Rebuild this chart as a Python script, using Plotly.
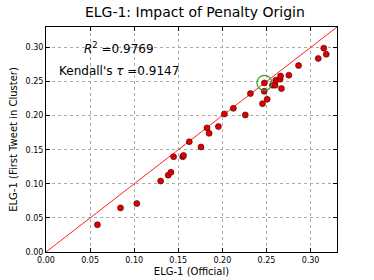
import plotly.graph_objects as go

official = [0.0583, 0.0845, 0.103, 0.130, 0.1386, 0.1417, 0.1447, 0.155, 0.156, 0.1625,
            0.1758, 0.185, 0.1826, 0.1955, 0.2023, 0.2125, 0.226, 0.2318, 0.2455, 0.2508,
            0.2477, 0.2474, 0.2568, 0.2598, 0.2606, 0.2655, 0.266, 0.267, 0.2754, 0.2864,
            0.3087, 0.315, 0.3178]
first_tweet = [0.040, 0.0647, 0.071, 0.104, 0.1127, 0.117, 0.1397, 0.1397, 0.1416, 0.1617,
               0.154, 0.174, 0.182, 0.184, 0.2024, 0.2107, 0.201, 0.2323, 0.2176, 0.224,
               0.248, 0.2357, 0.2446, 0.2446, 0.252, 0.2534, 0.258, 0.2397, 0.2593, 0.2735,
               0.2838, 0.299, 0.290]
highlight_x = [0.2477]
highlight_y = [0.248]
diag = [0.0, 0.33]
tick_vals = [0.00, 0.05, 0.10, 0.15, 0.20, 0.25, 0.30]
tick_text = ["0.00", "0.05", "0.10", "0.15", "0.20", "0.25", "0.30"]
r2_text = "<i>R</i><sup>2</sup> =0.9769"
tau_text = "Kendall's <i>τ</i> =0.9147"

fig = go.Figure()
fig.add_trace(go.Scatter(x=diag, y=diag, mode="lines",
                         line=dict(color="#ff2020", width=1), showlegend=False))
fig.add_trace(go.Scatter(x=official, y=first_tweet, mode="markers",
                         marker=dict(color="#e00000", size=6,
                                     line=dict(color="#400000", width=0.6)),
                         showlegend=False))
fig.add_trace(go.Scatter(x=highlight_x, y=highlight_y, mode="markers",
                         marker=dict(color="#2ca02c", size=15, symbol="circle-open",
                                     line=dict(color="#2ca02c", width=1.2)),
                         showlegend=False))

axis_common = dict(range=[0, 0.33], tickvals=tick_vals, ticktext=tick_text,
                   showgrid=True, gridcolor="#aaaaaa", griddash="dot", gridwidth=1,
                   zeroline=False, showline=True, linecolor="#000000", linewidth=1,
                   mirror="ticks", ticks="inside", ticklen=4, tickcolor="#000000",
                   automargin=False,
                   tickfont=dict(family="DejaVu Sans", size=8, color="#000000"))

fig.update_layout(
    width=374, height=280,
    margin=dict(l=46, r=37, t=27, b=28),
    paper_bgcolor="white", plot_bgcolor="white",
    title=dict(text="ELG-1: Impact of Penalty Origin", x=0.521, xanchor="center",
               y=0.958, yanchor="middle",
               font=dict(family="DejaVu Sans", size=14, color="#000000")),
    xaxis=dict(axis_common, title=dict(text="ELG-1 (Official)", standoff=4,
                                       font=dict(family="DejaVu Sans", size=10, color="#000000"))),
    yaxis=dict(axis_common, title=dict(text="ELG-1 (First Tweet in Cluster)", standoff=6,
                                       font=dict(family="DejaVu Sans", size=10, color="#000000"))),
    annotations=[
        dict(x=0.0826, y=0.299, xref="x", yref="y", text=r2_text, showarrow=False,
             xanchor="center", yanchor="middle",
             font=dict(family="DejaVu Sans", size=12, color="#000000")),
        dict(x=0.0827, y=0.2656, xref="x", yref="y", text=tau_text, showarrow=False,
             xanchor="center", yanchor="middle",
             font=dict(family="DejaVu Sans", size=12, color="#000000")),
    ],
)

fig.write_html("out.html", config={"displayModeBar": False},
               post_script="document.body.style.margin='0';document.body.style.overflow='hidden';")
